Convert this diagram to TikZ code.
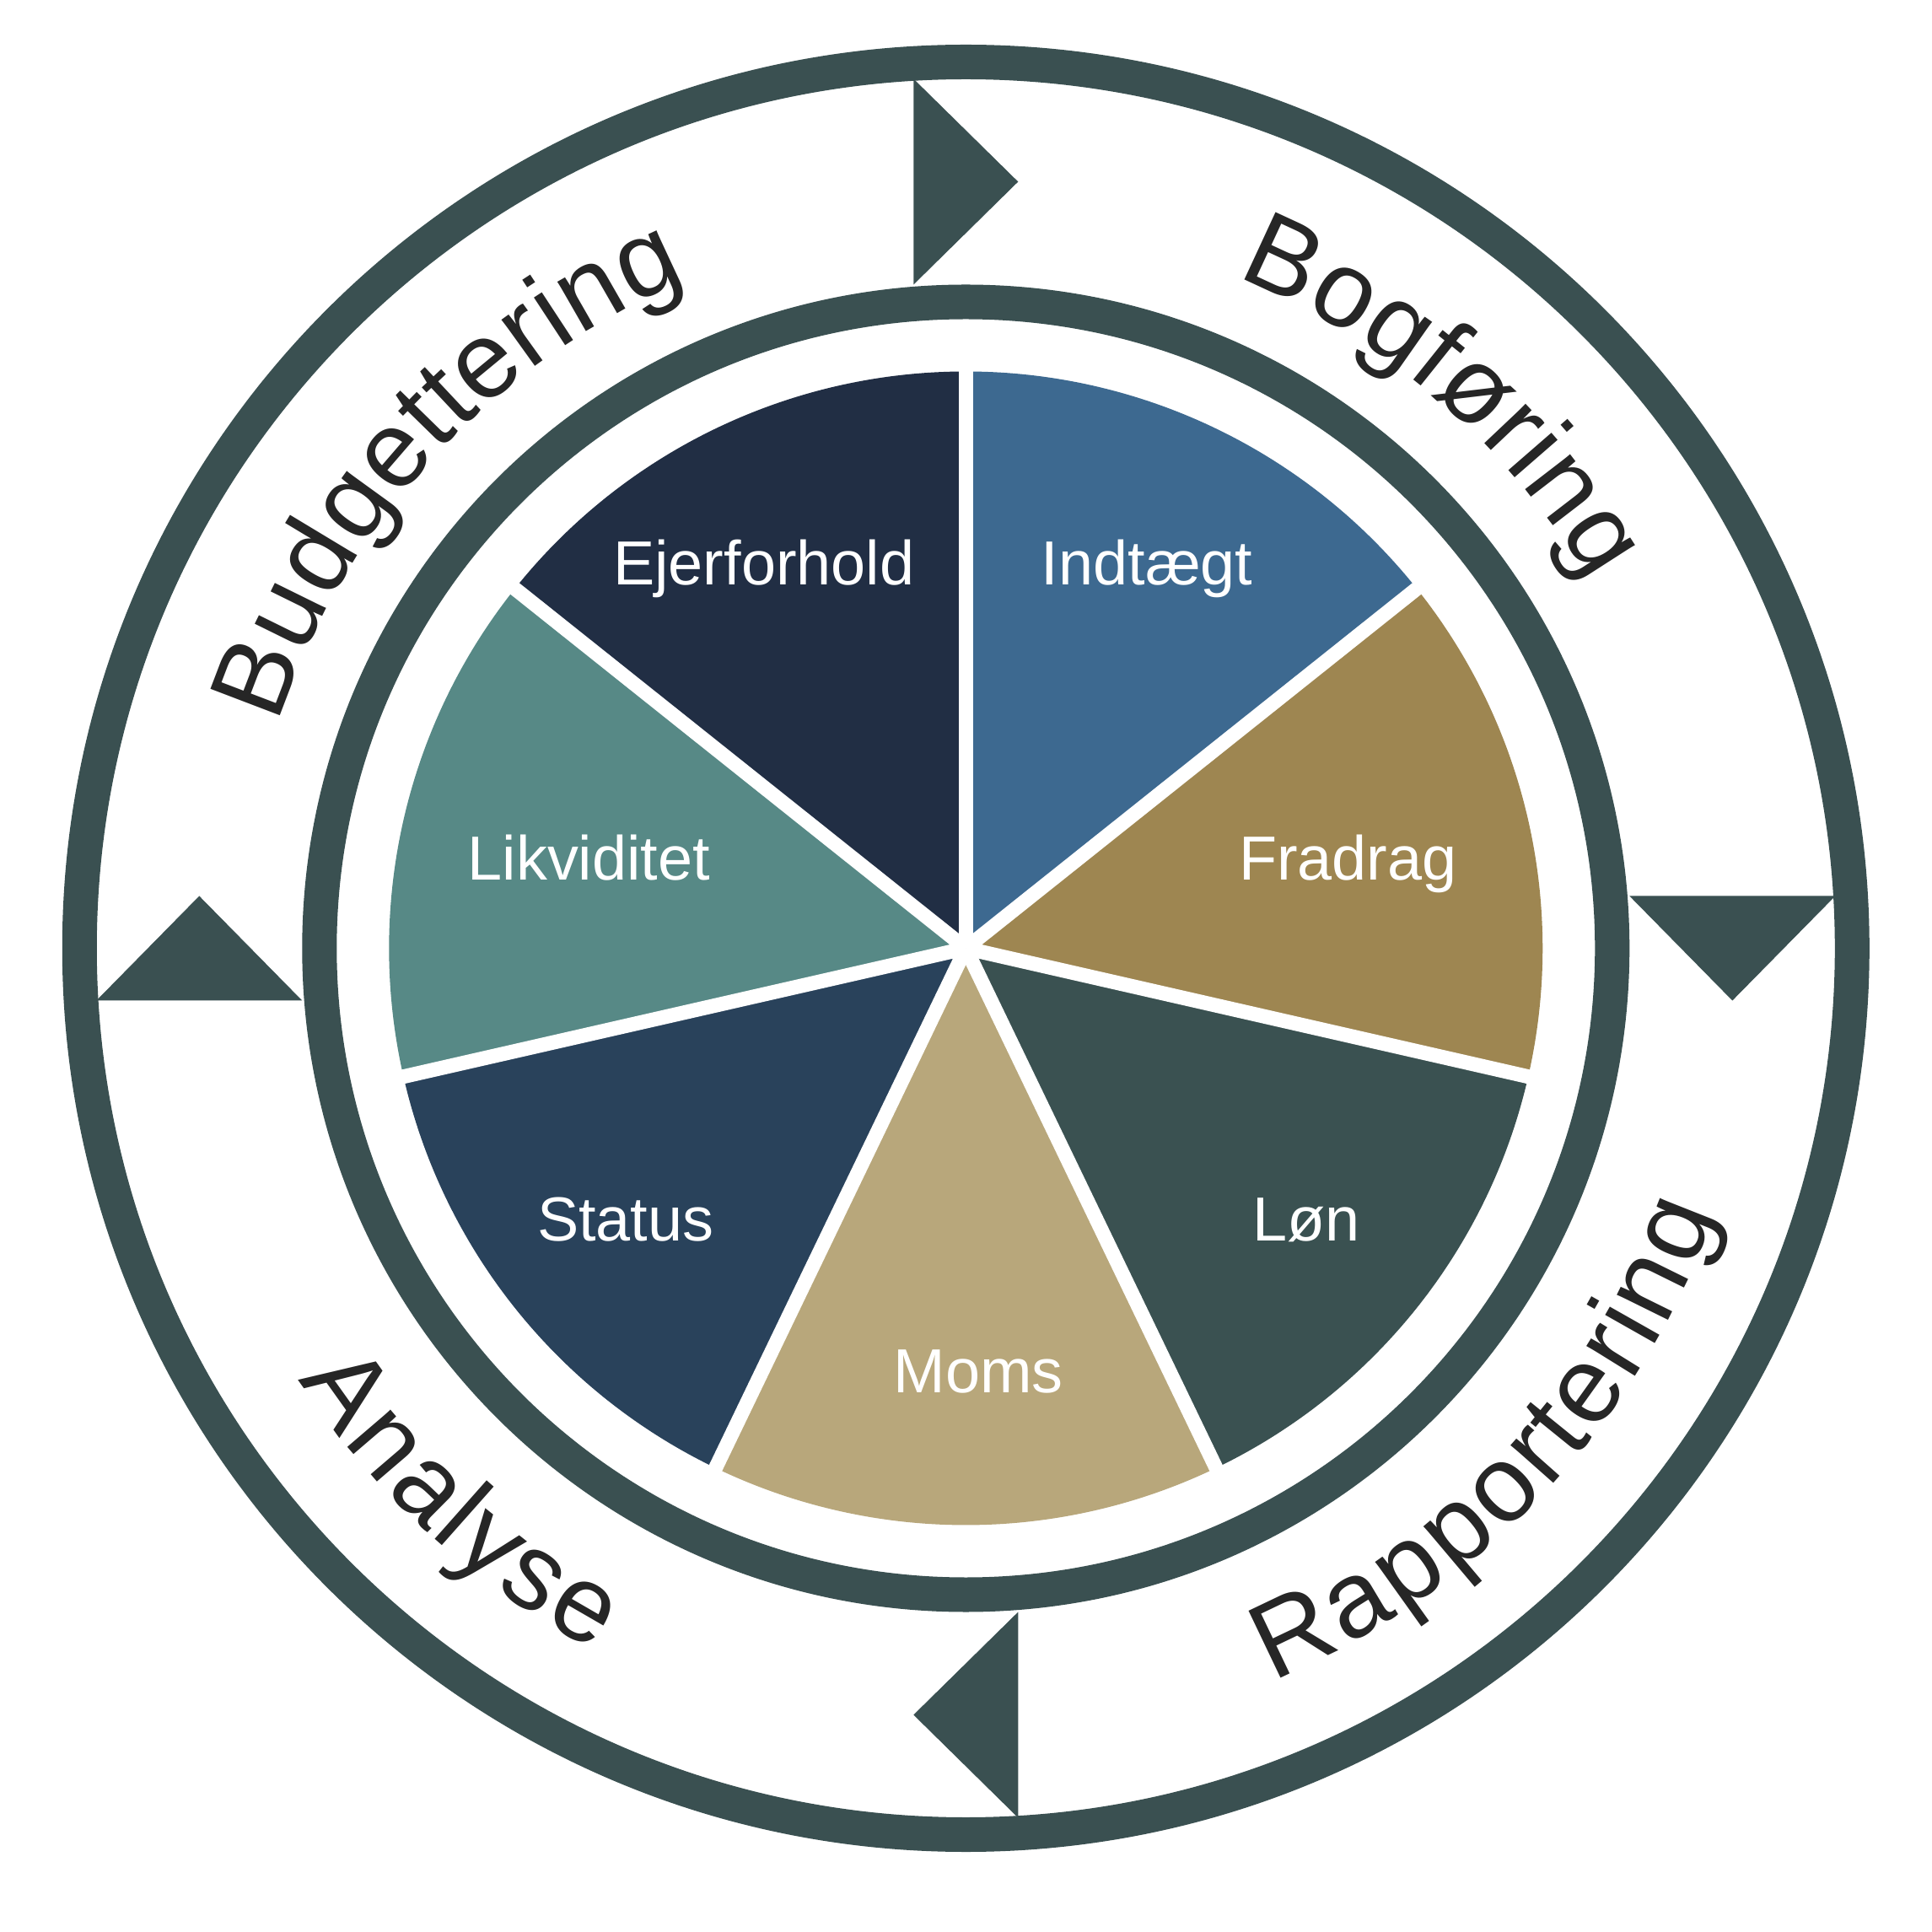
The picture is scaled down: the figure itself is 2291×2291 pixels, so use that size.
\documentclass[tikz,border=0pt]{standalone}
\usepackage{fontspec}
\setmainfont{Liberation Sans}
\usetikzlibrary{decorations.text}
\definecolor{ringc}{RGB}{58,80,81}
\definecolor{cEjer}{RGB}{33,46,68}
\definecolor{cInd}{RGB}{61,105,144}
\definecolor{cFra}{RGB}{158,134,81}
\definecolor{cLon}{RGB}{58,81,81}
\definecolor{cMoms}{RGB}{184,167,123}
\definecolor{cStat}{RGB}{41,66,91}
\definecolor{cLik}{RGB}{87,137,134}
\definecolor{txtdark}{RGB}{38,38,38}
\newcommand\ringstyle{\fontsize{36.4pt}{40pt}\selectfont\color{txtdark}}
\begin{document}
\begin{tikzpicture}[x=0.01cm,y=0.01cm,
  ring/.style={draw=ringc, line width=11.66pt},
  sectorlabel/.style={text=white, font=\fontsize{21pt}{24pt}\selectfont, anchor=base, inner sep=0pt},
  arrowtri/.style={fill=ringc},
  sepline/.style={draw=white, line width=4.84pt},
  curvedtop/.style={decorate, decoration={text along path, text align=center, raise=4.84pt, text={|\ringstyle|#1}}},
  curvedbot/.style={decorate, decoration={text along path, text align=center, raise=-17.64pt, text={|\ringstyle|#1}}}
]
\useasboundingbox (-1145.3,-1166.5) rectangle (1145.7,1124.5);
\fill[white] (-1145.3,-1166.5) rectangle (1145.7,1124.5);

% pie sectors
\def\pr{684}
\fill[cInd]  (0,0) -- (90:\pr) arc[start angle=90, end angle=38.571, radius=\pr] -- cycle;
\fill[cFra]  (0,0) -- (38.571:\pr) arc[start angle=38.571, end angle=-12.857, radius=\pr] -- cycle;
\fill[cLon]  (0,0) -- (-12.857:\pr) arc[start angle=-12.857, end angle=-64.286, radius=\pr] -- cycle;
\fill[cMoms] (0,0) -- (-64.286:\pr) arc[start angle=-64.286, end angle=-115.714, radius=\pr] -- cycle;
\fill[cStat] (0,0) -- (-115.714:\pr) arc[start angle=-115.714, end angle=-167.143, radius=\pr] -- cycle;
\fill[cLik]  (0,0) -- (-167.143:\pr) arc[start angle=-167.143, end angle=-218.571, radius=\pr] -- cycle;
\fill[cEjer] (0,0) -- (141.429:\pr) arc[start angle=141.429, end angle=90, radius=\pr] -- cycle;

\coordinate (c) at (0,0);
\foreach \a in {90,38.571,-12.857,-64.286,-115.714,-167.143,141.429}
  \draw[sepline] (c) -- (\a:700);

% sector labels
\node[sectorlabel] (ind)  at (214.9,430.5) {Indtægt};
\node[sectorlabel] (fra)  at (453,81.2) {Fradrag};
\node[sectorlabel] (lon)  at (403.5,-347.2) {Løn};
\node[sectorlabel] (moms) at (14.7,-527.2) {Moms};
\node[sectorlabel] (stat) at (-403.5,-347) {Status};
\node[sectorlabel] (lik)  at (-447,81) {Likviditet};
\node[sectorlabel] (ejer) at (-239.5,430.5) {Ejerforhold};

% triangles
\foreach \r in {0,-90,-180,-270}
  \fill[arrowtri, rotate=\r] (-62,787) -- (-62,1031) -- (62,909) -- cycle;

% rings
\draw[ring] (c) circle[radius=766.5];
\draw[ring] (c) circle[radius=1051];

% curved texts
\path[curvedtop=Bogføring] (89.2:841) arc[start angle=89.2, end angle=9.2, radius=841];
\path[curvedtop=Budgettering] (177.3:841) arc[start angle=177.3, end angle=97.3, radius=841];
\path[curvedbot=Analyse] (187.5:880) arc[start angle=187.5, end angle=267.5, radius=880];
\path[curvedbot=Rapportering] (276.6:880) arc[start angle=276.6, end angle=356.6, radius=880];
\end{tikzpicture}
\end{document}
